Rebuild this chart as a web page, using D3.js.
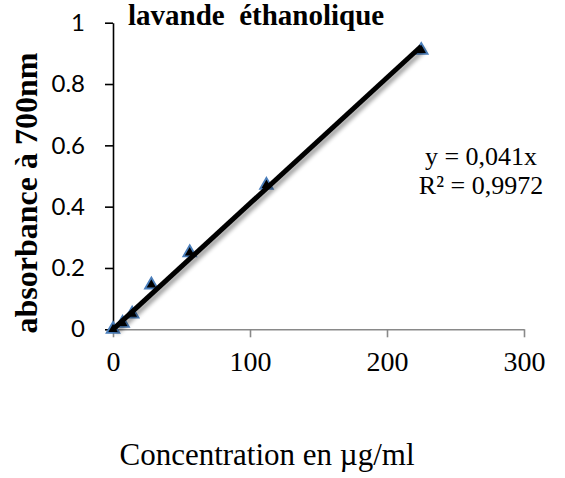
<!DOCTYPE html>
<html>
<head>
<meta charset="utf-8">
<script src="https://cdn.jsdelivr.net/npm/d3@7"></script>
<style>
  html, body { margin: 0; padding: 0; background: #fff; }
  svg { display: block; }
</style>
</head>
<body>
<div id="chart"></div>
<script>
const concentrations = [0, 7, 14, 28, 56, 112, 225];
const absorbances = [0, 0.02, 0.05, 0.145, 0.25, 0.47, 0.91];
const xTicks = [0, 100, 200, 300];
const yTicks = [0, 0.2, 0.4, 0.6, 0.8, 1];
const titleText = 'lavande\u00a0 éthanolique';
const xLabel = 'Concentration en µg/ml';
const yLabel = 'absorbance à 700nm';
const equationLines = ['y = 0,041x', 'R² = 0,9972'];

const width = 565;
const height = 478;
const serif = '"Liberation Serif", "Times New Roman", serif';
const sans = 'Lato, "Open Sans", sans-serif';
const markerStroke = '#4A7EBB';

const svg = d3.select('#chart')
  .append('svg')
  .attr('width', width)
  .attr('height', height);

const defs = svg.append('defs');
const shadow = defs.append('filter')
  .attr('id', 'line-shadow')
  .attr('x', '-10%').attr('y', '-10%')
  .attr('width', '130%').attr('height', '130%');
shadow.append('feGaussianBlur')
  .attr('in', 'SourceAlpha')
  .attr('stdDeviation', 2)
  .attr('result', 'blur');
shadow.append('feOffset')
  .attr('in', 'blur')
  .attr('dx', 3).attr('dy', 3)
  .attr('result', 'off');
shadow.append('feComponentTransfer')
  .attr('in', 'off')
  .attr('result', 'faded')
  .append('feFuncA').attr('type', 'linear').attr('slope', 0.4);
const merge = shadow.append('feMerge');
merge.append('feMergeNode').attr('in', 'faded');
merge.append('feMergeNode').attr('in', 'SourceGraphic');

const xScale = d3.scaleLinear().domain([0, 300]).range([113, 524]);
const yScale = d3.scaleLinear().domain([0, 1]).range([329.3, 22.7]);

// x axis (grey)
const xAxis = svg.append('g')
  .attr('transform', `translate(0, ${yScale(0)})`)
  .call(d3.axisBottom(xScale).tickValues(xTicks).tickSize(8).tickSizeOuter(0).tickPadding(14)
    .tickFormat(d3.format('d')));
xAxis.select('.domain').attr('stroke', '#898989').attr('stroke-width', 1.6);
xAxis.selectAll('line').attr('stroke', '#898989').attr('stroke-width', 1.6);
xAxis.selectAll('text')
  .style('font-family', serif)
  .style('font-size', '28px')
  .attr('fill', '#000');

// y axis (black)
const yAxis = svg.append('g')
  .attr('transform', `translate(${xScale(0)}, 0)`)
  .call(d3.axisLeft(yScale).tickValues(yTicks).tickSize(8).tickSizeOuter(0).tickPadding(20)
    .tickFormat(d => d === 0 || d === 1 ? d3.format('d')(d) : d3.format('.1f')(d)));
yAxis.select('.domain').attr('stroke', '#000').attr('stroke-width', 1.6);
yAxis.selectAll('line').attr('stroke', '#000').attr('stroke-width', 1.6);
yAxis.selectAll('text')
  .style('font-family', sans)
  .style('font-size', '24px')
  .attr('fill', '#000');

// markers
const triangle = d3.symbol().type(d3.symbolTriangle).size(70);
svg.append('g')
  .selectAll('path')
  .data(concentrations)
  .join('path')
  .attr('transform', (d, i) => `translate(${xScale(d)}, ${yScale(absorbances[i])})`)
  .attr('d', triangle)
  .attr('fill', '#000')
  .attr('stroke', markerStroke)
  .attr('stroke-width', 1.8);

// linear trendline forced through origin (least squares)
const sxy = d3.sum(concentrations, (x, i) => x * absorbances[i]);
const sxx = d3.sum(concentrations, x => x * x);
const fitSlope = sxy / sxx;
const xMax = d3.max(concentrations);
const trend = [0, xMax].map(x => [x, fitSlope * x]);
svg.append('path')
  .datum(trend)
  .attr('fill', 'none')
  .attr('stroke', '#000')
  .attr('stroke-width', 5)
  .attr('filter', 'url(#line-shadow)')
  .attr('d', d3.line().x(d => xScale(d[0])).y(d => yScale(d[1])));

// title
svg.append('text')
  .attr('x', 128)
  .attr('y', 25)
  .style('font-family', serif)
  .style('font-size', '29px')
  .style('font-weight', 'bold')
  .text(titleText);

// axis titles
svg.append('text')
  .attr('x', 267)
  .attr('y', 465)
  .attr('text-anchor', 'middle')
  .style('font-family', serif)
  .style('font-size', '31px')
  .text(xLabel);

svg.append('text')
  .attr('transform', 'translate(37, 193) rotate(-90)')
  .attr('text-anchor', 'middle')
  .style('font-family', serif)
  .style('font-size', '32px')
  .style('font-weight', 'bold')
  .text(yLabel);

// equation
svg.append('g')
  .selectAll('text')
  .data(equationLines)
  .join('text')
  .attr('x', 481)
  .attr('y', (d, i) => 165 + i * 29)
  .attr('text-anchor', 'middle')
  .style('font-family', serif)
  .style('font-size', '26px')
  .text(d => d);
</script>
</body>
</html>
